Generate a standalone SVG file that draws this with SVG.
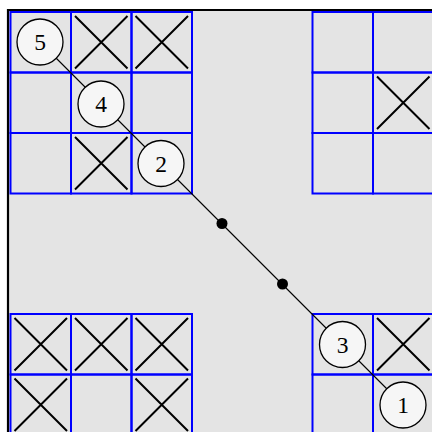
<svg xmlns="http://www.w3.org/2000/svg" width="432" height="432" viewBox="0 0 432 432">
<style>
.cell{fill:none;stroke:#0000ff;stroke-width:2}
.x{stroke:#000;stroke-width:2;fill:none}
.node circle{fill:#f6f6f6;stroke:#000;stroke-width:1.3}
.node text{font-family:"Liberation Serif","DejaVu Serif",serif;font-size:23.5px;text-anchor:middle;fill:#000}
.conn{stroke:#000;stroke-width:1.1;fill:none}
</style>
<defs>
<path id="xm" class="x" d="M4,4L56.5,56.5M56.5,4L4,56.5"/>
<rect id="c" class="cell" width="60.5" height="60.5"/>
</defs>
<rect x="0" y="0" width="432" height="432" fill="#fff"/>
<rect x="9" y="10" width="423" height="422" fill="#e4e4e4"/>
<path d="M8,432V10H432" fill="none" stroke="#000" stroke-width="2.2"/>
<g id="grid-tl">
<use href="#c" x="10.5" y="12"/><use href="#c" x="71" y="12"/><use href="#c" x="131.5" y="12"/>
<use href="#c" x="10.5" y="72.5"/><use href="#c" x="71" y="72.5"/><use href="#c" x="131.5" y="72.5"/>
<use href="#c" x="10.5" y="133"/><use href="#c" x="71" y="133"/><use href="#c" x="131.5" y="133"/>
<use href="#xm" x="71" y="12"/><use href="#xm" x="131.5" y="12"/><use href="#xm" x="71" y="133"/>
</g>
<g id="grid-tr">
<use href="#c" x="312.5" y="12"/><use href="#c" x="373" y="12"/>
<use href="#c" x="312.5" y="72.5"/><use href="#c" x="373" y="72.5"/>
<use href="#c" x="312.5" y="133"/><use href="#c" x="373" y="133"/>
<use href="#xm" x="373" y="72.5"/>
</g>
<g id="grid-bl">
<use href="#c" x="10.5" y="314"/><use href="#c" x="71" y="314"/><use href="#c" x="131.5" y="314"/>
<use href="#c" x="10.5" y="374.5"/><use href="#c" x="71" y="374.5"/><use href="#c" x="131.5" y="374.5"/>
<use href="#xm" x="10.5" y="314"/><use href="#xm" x="71" y="314"/><use href="#xm" x="131.5" y="314"/>
<use href="#xm" x="10.5" y="374.5"/><use href="#xm" x="131.5" y="374.5"/>
</g>
<g id="grid-br">
<use href="#c" x="312.5" y="314"/><use href="#c" x="373" y="314"/>
<use href="#c" x="312.5" y="374.5"/><use href="#c" x="373" y="374.5"/>
<use href="#xm" x="373" y="314"/>
</g>
<g id="connectors">
<path class="conn" d="M40,42L403,405"/>
</g>
<g id="dot1"><circle cx="222" cy="223.5" r="5.5" fill="#000"/></g>
<g id="dot2"><circle cx="282.5" cy="284" r="5.5" fill="#000"/></g>
<g id="n5" class="node"><circle cx="40" cy="42" r="23"/><text x="40" y="50">5</text></g>
<g id="n4" class="node"><circle cx="101" cy="104" r="23"/><text x="101" y="112">4</text></g>
<g id="n2" class="node"><circle cx="161" cy="163.5" r="23"/><text x="161" y="171.5">2</text></g>
<g id="n3" class="node"><circle cx="342.5" cy="344.5" r="23"/><text x="342.5" y="352.5">3</text></g>
<g id="n1" class="node"><circle cx="403" cy="405" r="23"/><text x="403" y="413">1</text></g>
</svg>
